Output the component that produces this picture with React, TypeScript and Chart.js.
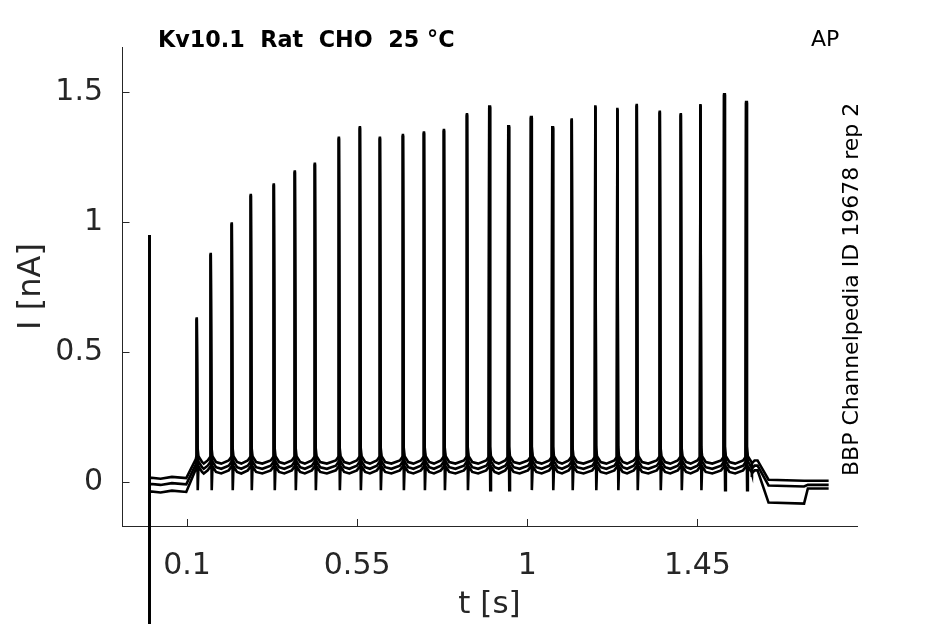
import React, { useEffect, useRef } from "react";
import { Chart, registerables } from "chart.js";

Chart.register(...registerables);

// ---- data ----
const spikeTimes = [
  0.1257, 0.1627, 0.2183, 0.2687, 0.3295, 0.3851, 0.4381, 0.5016, 0.5572,
  0.6101, 0.671, 0.7266, 0.7795, 0.8404, 0.8994, 0.9497, 1.0098, 1.0661,
  1.1175, 1.1799, 1.2382, 1.2895, 1.3504, 1.406, 1.4579, 1.5206, 1.5788,
];
const spikePeaks = [
  0.635, 0.883, 1.0, 1.11, 1.15, 1.2, 1.23, 1.33, 1.37, 1.33, 1.34, 1.35,
  1.36, 1.42, 1.45, 1.374, 1.41, 1.37, 1.4, 1.45, 1.44, 1.456, 1.43, 1.42,
  1.455, 1.497, 1.467,
];
const artifactTime = 0.0;
const artifactPeak = 0.951;
const artifactLow = -3.0;

// three repetitions: baseline levels (nA)
const repPre = [0.018, -0.006, -0.035];
const repPlateau = [0.088, 0.068, 0.05];
const repHasDip = [false, false, true];
const dipLevel = -0.03;
const repAfter = [0.01, -0.012, -0.078];
const repAfterLate = [0.006, -0.01, -0.024];

// phase times (s)
const stimOn = [0.098, 0.125];
const stimOff = [1.609, 1.638];
const lateRecovery = [1.732, 1.742];
const traceEnd = 1.797;

const xTicks = [0.1, 0.55, 1, 1.45];
const yTicks = [0, 0.5, 1, 1.5];

const titleText = "Kv10.1  Rat  CHO  25 °C";
const cornerText = "AP";
const sideText = "BBP Channelpedia ID 19678 rep 2";

function buildTrace(r: number) {
  const pts: { x: number; y: number }[] = [];
  const pre = repPre[r];
  const plat = repPlateau[r];
  pts.push({ x: artifactTime, y: artifactLow });
  pts.push({ x: artifactTime + 0.0004, y: artifactPeak });
  pts.push({ x: artifactTime + 0.0012, y: pre });
  pts.push({ x: 0.03, y: pre - 0.004 });
  pts.push({ x: 0.06, y: pre + 0.003 });
  pts.push({ x: stimOn[0], y: pre - 0.002 });
  pts.push({ x: stimOn[1] - 0.002, y: plat });
  for (let i = 0; i < spikeTimes.length; i++) {
    const ts = spikeTimes[i];
    const pk = spikePeaks[i] - r * 0.004;
    pts.push({ x: ts - 0.0012, y: plat + 0.01 });
    pts.push({ x: ts, y: pk });
    pts.push({ x: ts + 0.0018, y: plat + 0.05 });
    if (repHasDip[r]) {
      pts.push({ x: ts + 0.0026, y: dipLevel });
    }
    pts.push({ x: ts + 0.0045, y: plat + 0.012 });
    const next = i + 1 < spikeTimes.length ? spikeTimes[i + 1] : stimOff[0];
    pts.push({ x: ts + 0.014, y: plat - 0.01 });
    pts.push({ x: (ts + next) / 2, y: plat - 0.016 });
    pts.push({ x: next - 0.008, y: plat - 0.004 });
  }
  pts.push({ x: stimOff[0], y: plat - 0.004 });
  pts.push({ x: stimOff[1], y: repAfter[r] });
  pts.push({ x: lateRecovery[0], y: repAfter[r] - 0.004 });
  pts.push({ x: lateRecovery[1], y: repAfterLate[r] });
  pts.push({ x: traceEnd, y: repAfterLate[r] });
  return pts;
}

const FONT = "'DejaVu Sans', sans-serif";

const decorPlugin = {
  id: "decor",
  beforeDatasetsDraw(chart: any) {
    const ctx = chart.ctx;
    const xs = chart.scales.x;
    const ys = chart.scales.y;
    const area = chart.chartArea;
    ctx.save();
    ctx.strokeStyle = "#262626";
    ctx.lineWidth = 1;
    ctx.beginPath();
    xTicks.forEach((v) => {
      const px = Math.round(xs.getPixelForValue(v)) + 0.5;
      ctx.moveTo(px, area.bottom);
      ctx.lineTo(px, area.bottom - 7);
    });
    yTicks.forEach((v) => {
      const py = Math.round(ys.getPixelForValue(v)) + 0.5;
      ctx.moveTo(area.left, py);
      ctx.lineTo(area.left + 7.5, py);
    });
    ctx.stroke();
    ctx.restore();
  },
  afterDraw(chart: any) {
    const ctx = chart.ctx;
    ctx.save();
    ctx.fillStyle = "#000";
    ctx.textBaseline = "alphabetic";
    ctx.textAlign = "left";
    ctx.font = `bold 22.3px ${FONT}`;
    ctx.fillText(titleText, 158, 47);
    ctx.font = `22px ${FONT}`;
    ctx.fillText(cornerText, 811, 46);
    ctx.translate(858, 476);
    ctx.rotate(-Math.PI / 2);
    ctx.fillText(sideText, 0, 0);
    ctx.restore();
  },
};

export default function App() {
  const ref = useRef<HTMLCanvasElement | null>(null);
  useEffect(() => {
    if (!ref.current) return;
    const datasets = [0, 1, 2].map((r) => ({
      label: `rep ${r + 1}`,
      data: buildTrace(r),
      borderColor: "#000",
      backgroundColor: "#000",
      borderWidth: 2.6,
      pointRadius: 0,
      tension: 0,
      clip: false as any,
    }));
    const chart = new Chart(ref.current, {
      type: "line",
      data: { datasets },
      options: {
        animation: false,
        responsive: false,
        devicePixelRatio: 1,
        parsing: false,
        normalized: true,
        layout: { padding: { left: 0, right: 88, top: 47, bottom: 0 } },
        plugins: {
          legend: { display: false },
          tooltip: { enabled: false },
          title: { display: false },
        },
        scales: {
          x: {
            type: "linear",
            min: -0.072,
            max: 1.872,
            afterBuildTicks: (s: any) => {
              s.ticks = xTicks.map((v) => ({ value: v }));
            },
            afterFit: (s: any) => {
              s.height = 98;
            },
            grid: { display: false, drawTicks: false },
            border: { display: true, color: "#262626", width: 1 },
            ticks: {
              color: "#262626",
              font: { family: FONT, size: 30 },
              padding: 22,
              maxRotation: 0,
              autoSkip: false,
              callback: (v: any) => String(v),
            },
            title: {
              display: true,
              text: "t [s]",
              color: "#262626",
              font: { family: FONT, size: 31 },
              padding: { top: 2, bottom: 0 },
            },
          },
          y: {
            type: "linear",
            min: -0.168,
            max: 1.674,
            afterBuildTicks: (s: any) => {
              s.ticks = yTicks.map((v) => ({ value: v }));
            },
            afterFit: (s: any) => {
              s.width = 122;
            },
            grid: { display: false, drawTicks: false },
            border: { display: true, color: "#262626", width: 1 },
            ticks: {
              color: "#262626",
              font: { family: FONT, size: 30 },
              padding: 19,
              autoSkip: false,
              callback: (v: any) => String(v),
            },
            title: {
              display: true,
              text: "I [nA]",
              color: "#262626",
              font: { family: FONT, size: 32 },
              padding: { top: 12, bottom: 0 },
            },
          },
        },
      },
      plugins: [decorPlugin],
    });
    return () => chart.destroy();
  }, []);
  return (
    <div style={{ position: "fixed", left: 0, top: 0, width: 945, height: 624, background: "#fff" }}>
      <canvas ref={ref} width={945} height={624} style={{ width: 945, height: 624, display: "block" }} />
    </div>
  );
}
